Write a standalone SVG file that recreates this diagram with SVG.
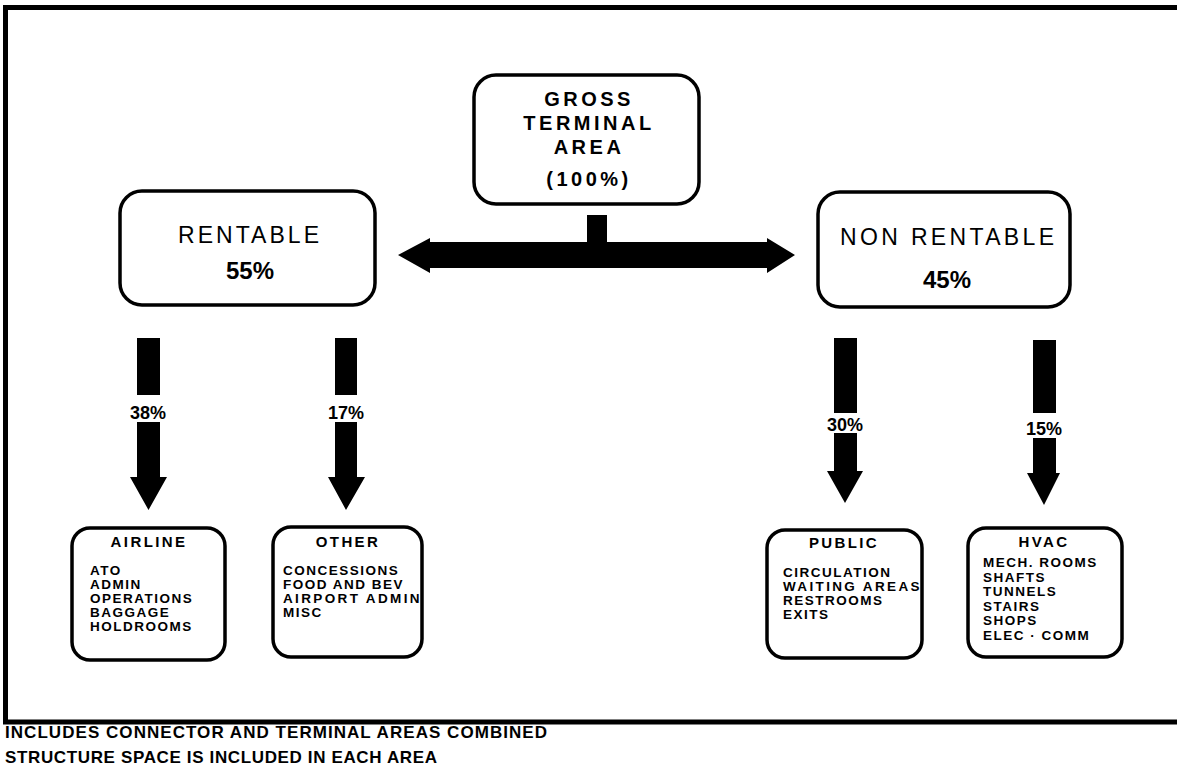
<svg xmlns="http://www.w3.org/2000/svg" width="1177" height="778" viewBox="0 0 1177 778">
<style>
.box{fill:#fff;stroke:#000;stroke-width:3.5}
.frame{fill:none;stroke:#000;stroke-width:5}
.t{font-family:"Liberation Sans",Arial,sans-serif;fill:#000}
.big{font-size:20px;font-weight:bold;letter-spacing:3.5px;text-anchor:middle}
.thin{font-size:23px;font-weight:normal;letter-spacing:1px}
.pct{font-size:24px;font-weight:bold;text-anchor:middle}
.lbl{font-size:18px;font-weight:bold;text-anchor:middle}
.ttl{font-size:15px;font-weight:bold;letter-spacing:2.4px;text-anchor:middle}
.item{font-size:13.5px;font-weight:bold;letter-spacing:1.5px}
.foot{font-size:17px;font-weight:bold;letter-spacing:1px}
.arr{fill:#000}
</style>
<path class="frame" d="M1177,7.5 H5.5 V722 H1177"/>
<g id="connectors">
<rect class="arr" x="587" y="215" width="20" height="30"/>
<polygon class="arr" points="398,255 430,238 430,242 767,242 767,238 795,255 767,273 767,268 430,268 430,273"/>
<polygon class="arr" points="137,338 160,338 160,395 137,395"/>
<polygon class="arr" points="137,422 160,422 160,477 167,477 148.5,510 130,477 137,477"/>
<polygon class="arr" points="335,338 357,338 357,395 335,395"/>
<polygon class="arr" points="335,422 357,422 357,477 365,477 346,510 328,477 335,477"/>
<polygon class="arr" points="834,338 857,338 857,413 834,413"/>
<polygon class="arr" points="834,433 857,433 857,471 863,471 845,503 827,471 834,471"/>
<polygon class="arr" points="1033,340 1056,340 1056,413 1033,413"/>
<polygon class="arr" points="1033,438 1056,438 1056,473 1060,473 1044,505 1027,473 1033,473"/>
<text class="t lbl" x="148" y="419">38%</text>
<text class="t lbl" x="346" y="419">17%</text>
<text class="t lbl" x="845" y="431">30%</text>
<text class="t lbl" x="1044" y="435">15%</text>
</g>
<g id="gross">
<rect class="box" x="474" y="75" width="225" height="129" rx="22"/>
<text class="t big" x="589" y="106">GROSS</text>
<text class="t big" x="589" y="130">TERMINAL</text>
<text class="t big" x="589" y="154">AREA</text>
<text class="t big" x="589" y="186">(100%)</text>
</g>
<g id="rentable">
<rect class="box" x="120" y="191" width="255" height="114" rx="22"/>
<text class="t thin" x="178" y="243" textLength="142">RENTABLE</text>
<text class="t pct" x="250" y="279">55%</text>
</g>
<g id="nonrentable">
<rect class="box" x="818" y="192" width="252" height="115" rx="22"/>
<text class="t thin" x="840" y="245" textLength="215">NON  RENTABLE</text>
<text class="t pct" x="947" y="288">45%</text>
</g>
<g id="airline">
<rect class="box" x="72" y="528" width="153" height="132" rx="18"/>
<text class="t ttl" x="149" y="547">AIRLINE</text>
<text class="t item" x="90" y="575">ATO</text>
<text class="t item" x="90" y="589">ADMIN</text>
<text class="t item" x="90" y="603">OPERATIONS</text>
<text class="t item" x="90" y="617">BAGGAGE</text>
<text class="t item" x="90" y="631">HOLDROOMS</text>
</g>
<g id="other">
<rect class="box" x="273" y="527" width="149" height="130" rx="18"/>
<text class="t ttl" x="348" y="547">OTHER</text>
<text class="t item" x="283" y="575">CONCESSIONS</text>
<text class="t item" x="283" y="589">FOOD AND BEV</text>
<text class="t item" x="283" y="603" textLength="138">AIRPORT ADMIN</text>
<text class="t item" x="283" y="617">MISC</text>
</g>
<g id="public">
<rect class="box" x="767" y="530" width="155" height="128" rx="18"/>
<text class="t ttl" x="844" y="548">PUBLIC</text>
<text class="t item" x="783" y="577">CIRCULATION</text>
<text class="t item" x="783" y="591" textLength="138">WAITING AREAS</text>
<text class="t item" x="783" y="605">RESTROOMS</text>
<text class="t item" x="783" y="619">EXITS</text>
</g>
<g id="hvac">
<rect class="box" x="968" y="528" width="154" height="129" rx="18"/>
<text class="t ttl" x="1044" y="547">HVAC</text>
<text class="t item" x="983" y="567">MECH. ROOMS</text>
<text class="t item" x="983" y="581.5">SHAFTS</text>
<text class="t item" x="983" y="596">TUNNELS</text>
<text class="t item" x="983" y="610.5">STAIRS</text>
<text class="t item" x="983" y="625">SHOPS</text>
<text class="t item" x="983" y="640">ELEC · COMM</text>
</g>
<g id="notes">
<text class="t foot" x="5" y="738" textLength="543">INCLUDES CONNECTOR AND TERMINAL AREAS COMBINED</text>
<text class="t foot" x="5" y="763" textLength="433">STRUCTURE SPACE IS INCLUDED IN EACH AREA</text>
</g>
</svg>
